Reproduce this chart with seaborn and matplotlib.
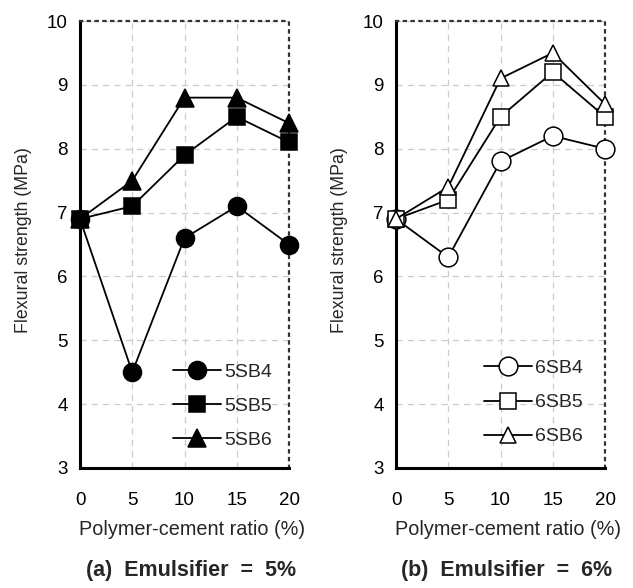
import matplotlib
matplotlib.use("Agg")
import matplotlib.pyplot as plt
import seaborn as sns
import pandas as pd

sns.set_theme(style="white")
plt.rcParams["font.family"] = ["Liberation Sans", "DejaVu Sans"]

# Polymer-cement ratio (%)
ratio = [0, 5, 10, 15, 20]

# Flexural strength (MPa), emulsifier = 5%
sb4_5 = [6.9, 4.5, 6.6, 7.1, 6.5]
sb5_5 = [6.9, 7.1, 7.9, 8.5, 8.1]
sb6_5 = [6.9, 7.5, 8.8, 8.8, 8.4]

# Flexural strength (MPa), emulsifier = 6%
sb4_6 = [6.9, 6.3, 7.8, 8.2, 8.0]
sb5_6 = [6.9, 7.2, 8.5, 9.2, 8.5]
sb6_6 = [6.9, 7.4, 9.1, 9.5, 8.7]

panels = [
    dict(caption="(a)  Emulsifier  =  5%",
         series=[("5SB4", sb4_5), ("5SB5", sb5_5), ("5SB6", sb6_5)],
         face="black", msizes=[13, 12, 13], left=80 / 633, leg_x=0.985, leg_y=0.012),
    dict(caption="(b)  Emulsifier  =  6%",
         series=[("6SB4", sb4_6), ("6SB5", sb5_6), ("6SB6", sb6_6)],
         face="white", msizes=[13.5, 11.5, 11.5], left=396 / 633, leg_x=0.96, leg_y=0.02),
]
markers = ["o", "s", "^"]

fig = plt.figure(figsize=(6.33, 5.88), dpi=100)
width = 209 / 633
bottom = 1 - 468 / 588
height = (468 - 21) / 588

for p in panels:
    ax = fig.add_axes([p["left"], bottom, width, height])
    for (name, vals), mk, ms in zip(p["series"], markers, p["msizes"]):
        df = pd.DataFrame({"ratio": ratio, "strength": vals})
        sns.lineplot(data=df, x="ratio", y="strength", ax=ax, color="black",
                     marker=mk, markersize=ms, markerfacecolor=p["face"],
                     markeredgecolor="black", markeredgewidth=1.1,
                     linewidth=1.3, label=name, clip_on=False, zorder=3)
    ax.set_xlim(0, 20)
    ax.set_ylim(3, 10)
    ax.set_xticks([0, 5, 10, 15, 20])
    ax.set_yticks([3, 4, 5, 6, 7, 8, 9, 10])
    ax.grid(True, color="#cccccc", linestyle=(0, (5, 4)), linewidth=0.9)
    for s in ["left", "bottom"]:
        ax.spines[s].set_linewidth(2.2)
        ax.spines[s].set_color("black")
    for s in ["top", "right"]:
        ax.spines[s].set_linewidth(1.6)
        ax.spines[s].set_color("#333333")
        ax.spines[s].set_linestyle((0, (1, 2.5)))
    ax.tick_params(axis="both", direction="in", length=5, width=2,
                   labelsize=13.5, colors="black", pad=9)
    ax.tick_params(axis="x", pad=17)
    ax.set_xlabel("Polymer-cement ratio (%)", fontsize=14.3)
    ax.xaxis.set_label_coords(0.535, -0.117)
    ax.set_ylabel("Flexural strength (MPa)", fontsize=12.8)
    ax.yaxis.set_label_coords(-0.232, 0.51)
    ax.legend(loc="lower right", bbox_to_anchor=(p["leg_x"], p["leg_y"]), frameon=False,
              fontsize=14, handlelength=2.5, handletextpad=0.15,
              labelspacing=0.85, borderpad=0.2)
    ax.text(0.53, -0.205, p["caption"], transform=ax.transAxes, ha="center", va="top",
            fontsize=15.5, fontweight="bold")

fig.savefig("out.png", dpi=100)
